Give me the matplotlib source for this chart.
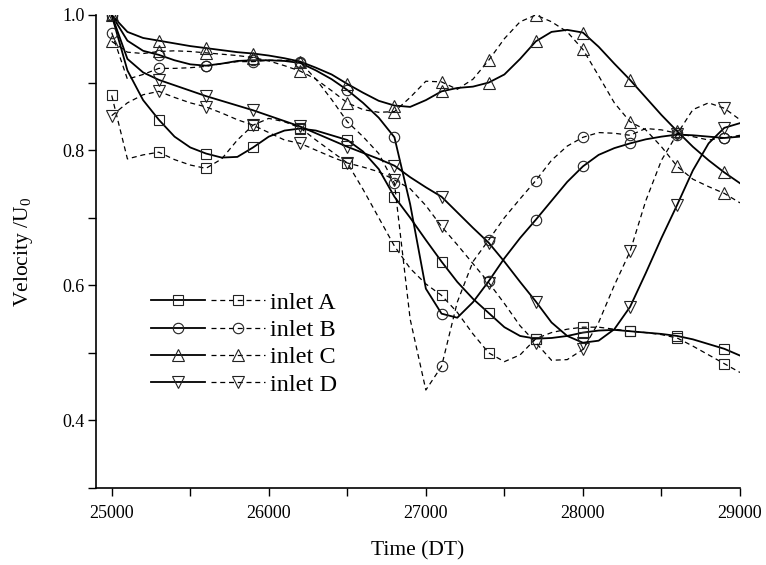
import numpy as np
import matplotlib
matplotlib.use("Agg")
import matplotlib.pyplot as plt
from matplotlib.legend_handler import HandlerTuple

plt.rcParams['font.family'] = ['Liberation Serif', 'DejaVu Serif']
plt.rcParams['mathtext.fontset'] = 'stix'

# time grid (DT), markers every 300
time = np.arange(25000, 29001, 100)

A_solid = [1.000, 0.918, 0.874, 0.845, 0.820, 0.804, 0.795, 0.789, 0.790, 0.804,
           0.820, 0.829, 0.832, 0.829, 0.822, 0.815, 0.798, 0.772, 0.731, 0.700,
           0.667, 0.635, 0.605, 0.580, 0.559, 0.538, 0.525, 0.521, 0.522, 0.525,
           0.530, 0.533, 0.534, 0.532, 0.530, 0.528, 0.525, 0.520, 0.513, 0.506, 0.496]
A_dash = [0.881, 0.787, 0.793, 0.797, 0.786, 0.778, 0.773, 0.787, 0.815, 0.837,
          0.847, 0.842, 0.833, 0.815, 0.798, 0.781, 0.742, 0.700, 0.658, 0.625,
          0.602, 0.585, 0.560, 0.528, 0.500, 0.487, 0.497, 0.521, 0.530, 0.535,
          0.538, 0.538, 0.535, 0.532, 0.530, 0.527, 0.522, 0.510, 0.497, 0.484, 0.471]
B_solid = [1.000, 0.962, 0.947, 0.941, 0.933, 0.927, 0.925, 0.928, 0.932, 0.933,
           0.933, 0.932, 0.929, 0.918, 0.905, 0.889, 0.870, 0.848, 0.819, 0.720,
           0.595, 0.558, 0.552, 0.575, 0.606, 0.640, 0.670, 0.697, 0.725, 0.753,
           0.776, 0.793, 0.803, 0.810, 0.816, 0.820, 0.823, 0.822, 0.820, 0.818, 0.820]
B_dash = [0.974, 0.905, 0.912, 0.921, 0.921, 0.922, 0.924, 0.928, 0.931, 0.931,
          0.933, 0.933, 0.930, 0.905, 0.875, 0.842, 0.820, 0.795, 0.751, 0.550,
          0.445, 0.480, 0.575, 0.635, 0.667, 0.700, 0.728, 0.755, 0.785, 0.806,
          0.819, 0.826, 0.825, 0.822, 0.832, 0.830, 0.825, 0.820, 0.815, 0.818, 0.822]
C_solid = [1.000, 0.975, 0.966, 0.962, 0.958, 0.954, 0.951, 0.948, 0.945, 0.943,
           0.940, 0.936, 0.931, 0.922, 0.912, 0.898, 0.885, 0.873, 0.866, 0.864,
           0.874, 0.887, 0.892, 0.894, 0.900, 0.912, 0.935, 0.961, 0.975, 0.978,
           0.974, 0.953, 0.928, 0.904, 0.878, 0.852, 0.828, 0.805, 0.785, 0.767, 0.751]
C_dash = [0.961, 0.945, 0.943, 0.946, 0.947, 0.946, 0.944, 0.942, 0.940, 0.937,
          0.932, 0.925, 0.917, 0.905, 0.888, 0.870, 0.860, 0.856, 0.857, 0.878,
          0.902, 0.901, 0.890, 0.905, 0.933, 0.965, 0.990, 1.000, 0.990, 0.975,
          0.949, 0.910, 0.870, 0.842, 0.830, 0.805, 0.776, 0.757, 0.746, 0.736, 0.722]
D_solid = [1.000, 0.935, 0.915, 0.904, 0.896, 0.888, 0.880, 0.873, 0.866, 0.859,
           0.851, 0.843, 0.835, 0.825, 0.815, 0.805, 0.796, 0.787, 0.777, 0.760,
           0.745, 0.731, 0.708, 0.685, 0.663, 0.635, 0.605, 0.576, 0.545, 0.525,
           0.515, 0.518, 0.535, 0.568, 0.618, 0.670, 0.719, 0.770, 0.810, 0.833, 0.840]
D_dash = [0.851, 0.870, 0.882, 0.887, 0.878, 0.870, 0.864, 0.855, 0.845, 0.837,
          0.826, 0.815, 0.810, 0.800, 0.790, 0.781, 0.775, 0.768, 0.756, 0.743,
          0.718, 0.687, 0.660, 0.632, 0.604, 0.573, 0.540, 0.515, 0.489, 0.490,
          0.505, 0.545, 0.600, 0.650, 0.725, 0.785, 0.824, 0.860, 0.870, 0.862, 0.845]

labels = ['inlet A', 'inlet B', 'inlet C', 'inlet D']
markers = ['s', 'o', '^', 'v']
msizes = [7, 7.5, 8.5, 8.5]
solid_data = [A_solid, B_solid, C_solid, D_solid]
dash_data = [A_dash, B_dash, C_dash, D_dash]

fig = plt.figure(figsize=(7.66, 5.65), dpi=100)
ax = fig.add_axes([96/766, 1-488/565, 644/766, 473/565])

handles = []
for i in range(4):
    s, = ax.plot(time, solid_data[i], color='black', lw=1.3, marker=markers[i],
                 markevery=3, ms=msizes[i], mfc='none', mec='#222222', mew=0.8)
    d, = ax.plot(time, dash_data[i], color='black', lw=0.9, ls=(0, (4, 3)),
                 marker=markers[i], markevery=3, ms=msizes[i], mfc='none',
                 mec='#222222', mew=0.8)
    handles.append((s, d))

ax.set_xlim(24900, 29000)
ax.set_ylim(0.3, 1.0)
ax.set_xticks([25000, 26000, 27000, 28000, 29000])
ax.set_xticks([25500, 26500, 27500, 28500], minor=True)
ax.set_yticks([0.4, 0.6, 0.8, 1.0])
ax.set_yticks([0.3, 0.5, 0.7, 0.9], minor=True)
ax.tick_params(which='both', direction='out', length=6, width=1, labelsize=13)
ax.tick_params(axis='x', pad=6)
ax.tick_params(axis='y', pad=2)
ax.spines['top'].set_visible(False)
ax.spines['right'].set_visible(False)
for sp in ['left', 'bottom']:
    ax.spines[sp].set_linewidth(1.2)

ax.set_xlabel('Time (DT)', fontsize=15.5, labelpad=14)
ax.set_ylabel(r'Velocity /U$_\mathregular{0}$', fontsize=15.5, labelpad=20)

ax.legend(handles, labels, handler_map={tuple: HandlerTuple(ndivide=None, pad=0.25)},
          handlelength=4.7, handletextpad=0.2, labelspacing=0.22, frameon=False,
          fontsize=17.5, loc='center left', bbox_to_anchor=(0.085, 0.305),
          borderpad=0, borderaxespad=0)

fig.savefig('out.png', dpi=100)
